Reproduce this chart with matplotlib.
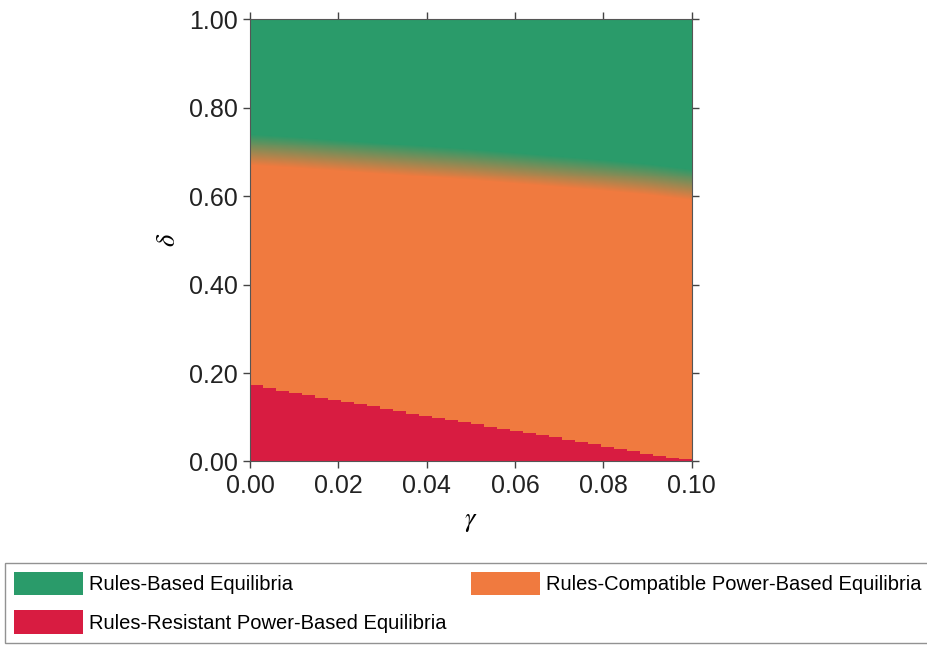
import matplotlib
matplotlib.use('Agg')
import matplotlib.pyplot as plt
import matplotlib.patches as mpatches
import numpy as np

plt.rcParams['font.family'] = ['Liberation Sans', 'DejaVu Sans']
plt.rcParams['mathtext.fontset'] = 'stix'

# red region: top of each step (34 columns over gamma 0..0.1)
red_top = [0.172, 0.164, 0.159, 0.155, 0.149, 0.143, 0.138, 0.133, 0.128, 0.123,
           0.118, 0.112, 0.107, 0.102, 0.097, 0.093, 0.088, 0.083, 0.078, 0.072,
           0.068, 0.063, 0.058, 0.053, 0.048, 0.043, 0.038, 0.032, 0.027, 0.023,
           0.017, 0.012, 0.008, 0.004]

# centre of the green/orange transition
green_gamma = [0.0, 0.01, 0.02, 0.03, 0.04, 0.05, 0.06, 0.07, 0.08, 0.09, 0.1]
green_mid = [0.703, 0.697, 0.690, 0.683, 0.676, 0.669, 0.661, 0.653, 0.645, 0.636, 0.624]
blend_half = 0.035

labels = ['Rules-Based Equilibria', 'Rules-Compatible Power-Based Equilibria',
          'Rules-Resistant Power-Based Equilibria']
green = np.array([42, 155, 106]) / 255
orange = np.array([240, 122, 63]) / 255
red = np.array([216, 28, 65]) / 255

# build the picture
nx, ny = 680, 900
g = (np.arange(nx) + 0.5) / nx * 0.1
d = (np.arange(ny) + 0.5) / ny
G, D = np.meshgrid(g, d)
mid = np.interp(g, green_gamma, green_mid)
w = np.clip((D - mid[None, :]) / (2 * blend_half) + 0.5, 0, 1)
img = orange[None, None, :] * (1 - w[..., None]) + green[None, None, :] * w[..., None]
col = np.minimum((g / 0.1 * len(red_top)).astype(int), len(red_top) - 1)
rt = np.array(red_top)[col]
img[D < rt[None, :]] = red

fig = plt.figure(figsize=(9.28, 6.45), dpi=100)
ax = fig.add_axes([0.2694, 0.2845, 0.4760, 0.6860])
ax.imshow(img, extent=[0, 0.1, 0, 1], origin='lower', aspect='auto', interpolation='nearest')
ax.set_xlim(0, 0.1)
ax.set_ylim(0, 1)
ax.set_xticks(np.arange(0, 0.101, 0.02))
ax.set_yticks(np.arange(0, 1.01, 0.2))
ax.xaxis.set_major_formatter(matplotlib.ticker.FormatStrFormatter('%.2f'))
ax.yaxis.set_major_formatter(matplotlib.ticker.FormatStrFormatter('%.2f'))
ax.tick_params(axis='both', which='both', direction='out', length=5, width=1,
               color='#444444', labelsize=18, labelcolor='#222222',
               top=True, right=True, pad=4)
for s in ax.spines.values():
    s.set_color('#555555')
ax.set_xlabel(r'$\gamma$', fontsize=19, labelpad=9)
ax.set_ylabel(r'$\delta$', fontsize=19, labelpad=6)

handles = [mpatches.Patch(facecolor=green, edgecolor='none'),
           mpatches.Patch(facecolor=orange, edgecolor='none'),
           mpatches.Patch(facecolor=red, edgecolor='none')]
order = [0, 2, 1]
leg = fig.legend([handles[i] for i in order], [labels[i] for i in order],
                 loc='upper left', bbox_to_anchor=(5 / 928, 1 - 563 / 645),
                 ncol=2, fontsize=14.5, frameon=True, fancybox=False,
                 edgecolor='#777777', handlelength=3.4, handleheight=1.4,
                 handletextpad=0.3, borderaxespad=0, borderpad=0.45,
                 labelspacing=0.75, columnspacing=1.25)
leg.get_frame().set_linewidth(1)

fig.savefig('out.png', dpi=100)
